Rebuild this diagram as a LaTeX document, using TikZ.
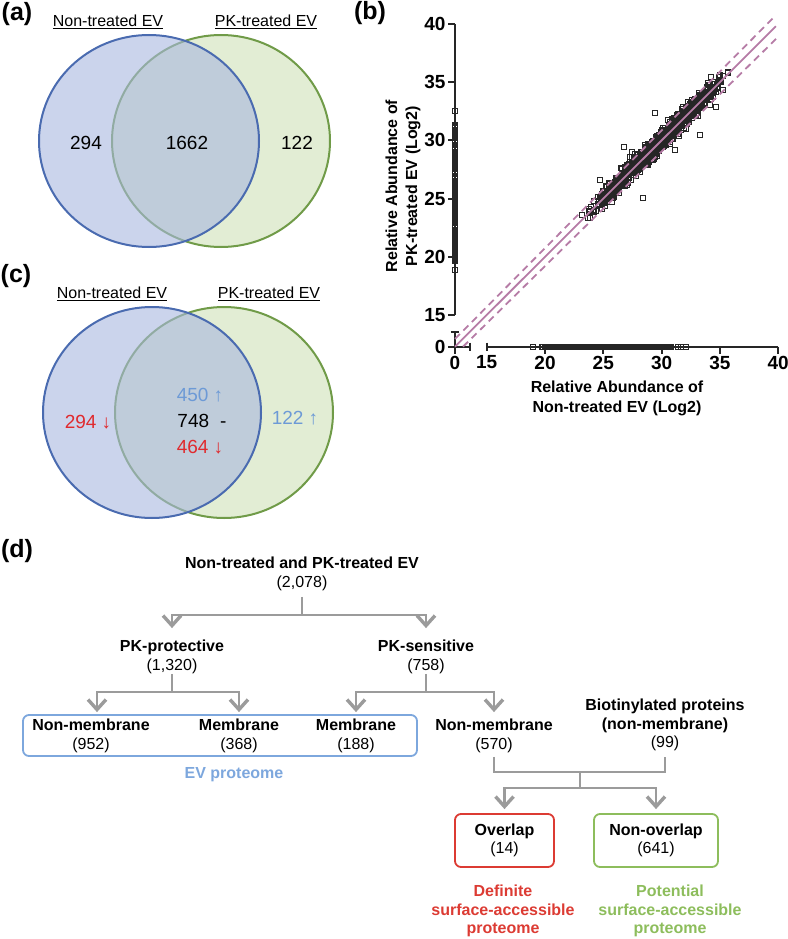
\documentclass[tikz,border=0pt]{standalone}
\usepackage{fontspec}
\setmainfont{Liberation Sans}
\usetikzlibrary{arrows.meta}
\definecolor{vblue}{HTML}{4A6BB0}
\definecolor{vbluefill}{HTML}{A8B7DF}
\definecolor{vgreen}{HTML}{709B48}
\definecolor{vgreenfill}{HTML}{E2EDD4}
\definecolor{upblue}{HTML}{6D9AD6}
\definecolor{downred}{HTML}{E02A2E}
\definecolor{fitpink}{HTML}{B67CA6}
\definecolor{linkgrey}{HTML}{9B9B9B}
\definecolor{evblue}{HTML}{7DA7DD}
\definecolor{ovred}{HTML}{DC3B33}
\definecolor{novgreen}{HTML}{8DBD5C}
\begin{document}
\begin{tikzpicture}[x=1pt,y=-1pt,>={Straight Barb[length=10pt,width=18pt,line width=3.4pt]},
  panel/.style={font=\fontsize{25}{25}\selectfont\bfseries},
  setname/.style={font=\fontsize{16}{16}\selectfont},
  count/.style={font=\fontsize{19}{19}\selectfont},
  tick/.style={font=\fontsize{19}{19}\selectfont\bfseries,inner sep=0pt},
  axtitle/.style={font=\fontsize{16}{20}\selectfont\bfseries,align=center,inner sep=0pt},
  txt/.style={font=\fontsize{16}{18.5}\selectfont,align=center,inner sep=0pt},
  txtb/.style={txt,font=\fontsize{16}{18.5}\selectfont\bfseries},
  link/.style={draw=linkgrey,line width=2.2pt},
  axis/.style={draw=black!85,line width=2pt},
  pt/.style={draw=black!85,line width=1pt},
  fitline/.style={draw=fitpink,line width=1.8pt},
  fitdash/.style={fitline,dash pattern=on 7pt off 5pt},
  groupbox/.style={draw,rounded corners=6pt,line width=1.8pt}]
\useasboundingbox (0,0) rectangle (787,939);

\fill[vgreenfill] (221,141) ellipse[x radius=109,y radius=106];
\draw[vgreen,line width=2pt] (221,141) ellipse[x radius=109,y radius=106];
\filldraw[fill=vbluefill,fill opacity=0.6,draw=vblue,line width=2pt] (149,141) ellipse[x radius=110,y radius=106];
\node[panel] (tagA) at (17,14) {(a)};
\node[setname] (setA1) at (108,22) {\underline{Non-treated EV}};
\node[setname] (setA2) at (266,22) {\underline{PK-treated EV}};
\node[count] (onlyA1) at (86,143) {294};
\node[count] (bothA) at (187,143) {1662};
\node[count] (onlyA2) at (297,143) {122};

\fill[vgreenfill] (224,412.5) ellipse[x radius=109,y radius=105.5];
\draw[vgreen,line width=2pt] (224,412.5) ellipse[x radius=109,y radius=105.5];
\filldraw[fill=vbluefill,fill opacity=0.6,draw=vblue,line width=2pt] (152,412.5) ellipse[x radius=109,y radius=105.5];
\node[panel] (tagC) at (16,276) {(c)};
\node[setname] (setC1) at (112,294) {\underline{Non-treated EV}};
\node[setname] (setC2) at (269,294) {\underline{PK-treated EV}};
\node[count,text=downred] (onlyC1) at (88,422) {294 ↓};
\node[count,text=upblue] (upC) at (200,395) {450 ↑};
\node[count] (sameC) at (202,421) {748\hspace{11pt}-};
\node[count,text=downred] (downC) at (200,447) {464 ↓};
\node[count,text=upblue] (onlyC2) at (295,418) {122 ↑};

\node[panel] (tagB) at (370,13) {(b)};
\begin{scope}[shift={(311.8,489.6)},x=11.66pt,y=11.64pt]
  \draw[axis] (12.28,40) -- (12.28,15);
  \foreach \t in {15,20,...,40}
    \draw[axis] (12.28,\t) -- ++(-7pt,0) node[tick,anchor=east,xshift=-1.5pt] (ty\t) {\t};
  \draw[axis] (12.28,12.28) -- (12.28,13.57);
  \draw[axis] (12.28,13.57) ++(-4pt,0) -- ++(8pt,0);
  \draw[axis] (12.28,12.28) -- ++(-7pt,0) node[tick,anchor=east,xshift=-1.5pt] (tyzero) {0};
  \draw[axis] (12.28,12.28) -- (13.57,12.28);
  \draw[axis] (13.57,12.28) ++(0,4pt) -- ++(0,-8pt);
  \draw[axis] (12.28,12.28) -- ++(0,-7pt) node[tick,anchor=north,yshift=-2pt] (txzero) {0};
  \draw[axis] (15,12.28) -- (40,12.28);
  \draw[axis] (15,12.28) ++(0,4pt) -- ++(0,-8pt);
  \node[tick,anchor=north,yshift=-9pt] (tx15) at (15,12.28) {15};
  \foreach \t in {20,25,...,40}
    \draw[axis] (\t,12.28) -- ++(0,-7pt) node[tick,anchor=north,yshift=-2pt] (tx\t) {\t};
  \pgfmathsetseed{2078}
  \foreach \k in {1,...,260}{
    \pgfmathsetmacro\u{23.8+5.9*(rnd+rnd)}
    \pgfmathsetmacro\w{\u+1.3*(rnd+rnd-1)}
    \draw[pt] (\u,\w) ++(-2.5pt,-2.5pt) rectangle ++(5pt,5pt);
  }
  \foreach \k in {1,...,1000}{
    \pgfmathsetmacro\u{23.6+6.1*(rnd+rnd)}
    \pgfmathsetmacro\w{\u+0.7*(rnd+rnd+rnd-1.5)}
    \draw[pt] (\u,\w) ++(-2.5pt,-2.5pt) rectangle ++(5pt,5pt);
  }
  \foreach \u/\w in {29.43/32.33,28.43/25.08,33.29/30.46,34.67/32.84,34.15/33.04,26.78/29.46,
      27.49/29.03,23.15/23.6,23.86/23.3,23.8/24.08,25.72/24.73,31.15/29.18,24.7/26.6,35.7/35.9}
    \draw[pt] (\u,\w) ++(-2.5pt,-2.5pt) rectangle ++(5pt,5pt);
  \foreach \k in {1,...,320}{
    \pgfmathsetmacro\w{19.6+11.7*rnd}
    \draw[pt] (12.28,\w) ++(-2.5pt,-2.5pt) rectangle ++(5pt,5pt);
  }
  \foreach \k in {1,...,320}{
    \pgfmathsetmacro\u{19.7+11.1*rnd}
    \draw[pt] (\u,12.28) ++(-2.5pt,-2.5pt) rectangle ++(5pt,5pt);
  }
  \foreach \w in {18.9,32.5}
    \draw[pt] (12.28,\w) ++(-2.5pt,-2.5pt) rectangle ++(5pt,5pt);
  \foreach \u in {19.0,31.4,31.7,32.1}
    \draw[pt] (\u,12.28) ++(-2.5pt,-2.5pt) rectangle ++(5pt,5pt);
  \draw[fitline] (12.28,12.28) -- (39.8,39.8);
  \draw[fitdash] (12.28,12.94) -- (39.73,40.69);
  \draw[fitdash] (12.97,12.28) -- (40.07,38.97);
\end{scope}
\node[axtitle,rotate=90] (ytitle) at (403,186) {Relative Abundance of\\PK-treated EV (Log2)};
\node[axtitle] (xtitle) at (617,398) {Relative Abundance of\\Non-treated EV (Log2)};

\node[panel] (tagD) at (17,551) {(d)};
\node[txt] (root) at (302,574) {\textbf{Non-treated and PK-treated EV}\\(2,078)};
\node[txt] (prot) at (172,657) {\textbf{PK-protective}\\(1,320)};
\node[txt] (sens) at (426,657) {\textbf{PK-sensitive}\\(758)};
\node[groupbox,draw=evblue,minimum width=394pt,minimum height=41pt] (evbox) at (220,735.5) {};
\node[txt] (nmA) at (91,736) {\textbf{Non-membrane}\\(952)};
\node[txt] (memA) at (239,736) {\textbf{Membrane}\\(368)};
\node[txt] (memB) at (356,736) {\textbf{Membrane}\\(188)};
\node[txt] (nmB) at (494,736) {\textbf{Non-membrane}\\(570)};
\node[txt] (bio) at (665,725) {\textbf{Biotinylated proteins}\\\textbf{(non-membrane)}\\(99)};
\node[txtb,text=evblue] (evlab) at (234,775) {EV proteome};
\node[txt,groupbox,draw=ovred,minimum width=99pt,minimum height=53pt] (ovl) at (504.5,840.5) {\textbf{Overlap}\\(14)};
\node[txt,groupbox,draw=novgreen,minimum width=124pt,minimum height=53pt] (novl) at (656,840.5) {\textbf{Non-overlap}\\(641)};
\node[txtb,text=ovred] (defl) at (503,911) {Definite\\surface-accessible\\proteome};
\node[txtb,text=novgreen] (potl) at (670,911) {Potential\\surface-accessible\\proteome};

\coordinate (j0) at (302,615);
\draw[link,shorten <=6pt] (root.south) -- (j0);
\draw[link,->,shorten >=12pt] (j0) -| (prot.north);
\draw[link,->,shorten >=12pt] (j0) -| (sens.north);
\coordinate (j1) at (172,692);
\draw[link] (prot.south) -- (j1);
\draw[link,->,shorten >=7pt] (j1) -| ([xshift=6pt]nmA.north);
\draw[link,->,shorten >=7pt] (j1) -| (memA.north);
\coordinate (j2) at (426,692);
\draw[link] (sens.south) -- (j2);
\draw[link,->,shorten >=7pt] (j2) -| (memB.north);
\draw[link,->,shorten >=7pt] (j2) -| (nmB.north);
\coordinate (j3) at (580,772);
\draw[link,shorten <=4pt] (nmB.south) |- (j3);
\draw[link,shorten <=6pt] (bio.south) |- (j3);
\coordinate (j4) at (580,788);
\draw[link] (j3) -- (j4);
\draw[link,->,shorten >=4pt] (j4) -| (ovl.north);
\draw[link,->,shorten >=4pt] (j4) -| (novl.north);
\end{tikzpicture}
\end{document}
